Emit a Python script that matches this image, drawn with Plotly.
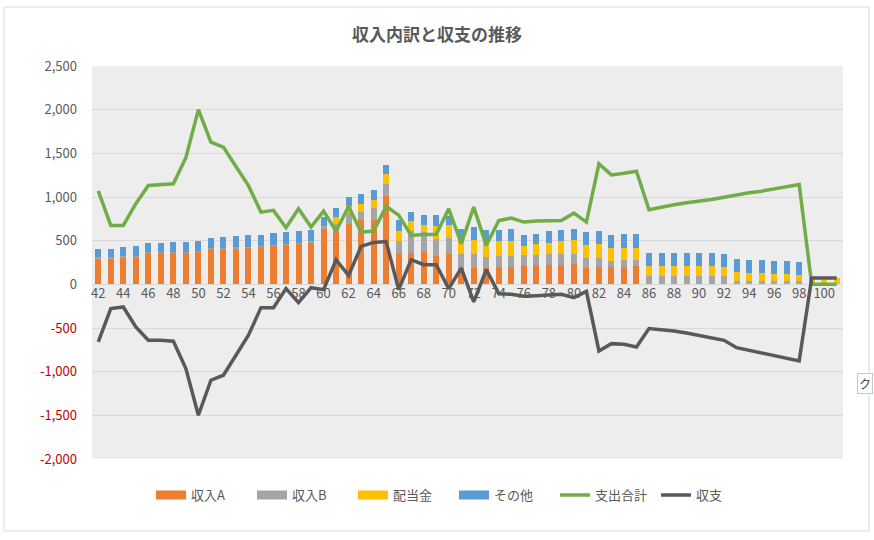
import plotly.graph_objects as go

ages = list(range(42, 102))

income_a = [300, 300, 312, 320, 362, 362, 362, 362, 377, 411, 411, 415, 423, 430, 442, 457, 469, 484,
            637, 600, 690, 732, 732, 1010, 351, 358, 370, 320, 343, 179, 190, 190, 198, 198, 206, 217,
            217, 217, 229, 190, 198, 198, 198, 206,
            0, 0, 0, 0, 0, 0, 0, 0, 0, 0, 0, 0, 0, 0, 0, 0]

income_b = [10] * 18 + [30, 90, 130, 95, 145, 141, 141, 248, 229, 202, 190, 164, 152, 122, 122, 122,
            126, 114, 126, 126, 122, 114, 107, 69, 76, 69,
            91, 91, 91, 91, 91, 91, 91, 38, 38, 38, 38, 38, 38, 0, 0, 0]

dividend = [0] * 19 + [76, 80, 88, 84, 114, 114, 118, 76, 141, 152, 179, 168, 183, 175, 175, 103,
            126, 130, 152, 152, 152, 160, 152, 145, 145,
            114, 114, 114, 114, 114, 114, 107, 99, 91, 91, 76, 76, 65, 70, 70, 70]

other = [90, 90, 101, 104, 97, 97, 108, 108, 108, 105, 116, 124, 127, 120, 131, 127, 127, 123,
         100, 107, 100, 114, 118, 107, 126, 110, 114, 126, 103, 114, 145, 122, 122, 133, 126, 122,
         133, 122, 133, 149, 141, 141, 152, 152,
         152, 152, 152, 152, 152, 152, 145, 152, 145, 145, 149, 149, 149, 0, 0, 0]

expense = [1070, 675, 675, 923, 1132, 1144, 1151, 1450, 2000, 1628, 1571, 1350, 1130, 827, 847, 648,
           866, 656, 838, 610, 892, 598, 610, 892, 792, 560, 571, 571, 865, 465, 884, 446, 731, 758,
           713, 724, 724, 731, 815, 713, 1379, 1253, 1272, 1295, 853, 884, 911, 933, 949, 972, 998,
           1025, 1048, 1067, 1093, 1120, 1143, 0, 0, 0]

balance = [-660, -278, -259, -488, -641, -641, -652, -965, -1499, -1098, -1041, -812, -583, -267, -267,
           -49, -210, -38, -61, 280, 103, 434, 480, 490, -61, 282, 225, 225, -50, 185, -200, 168,
           -107, -114, -137, -130, -122, -114, -152, -80, -763, -679, -686, -717, -507, -518, -534,
           -557, -583, -614, -641, -725, -755, -786, -812, -843, -877, 72, 72, 72]

y_ticks = [-2000, -1500, -1000, -500, 0, 500, 1000, 1500, 2000, 2500]
x_ticks = list(range(42, 101, 2))

names = ["収入A", "収入B", "配当金", "その他", "支出合計", "収支"]
colors = ["#ED7D31", "#A5A5A5", "#FFC000", "#5B9BD5", "#70AD47", "#595959"]

FONT = "Noto Sans CJK JP, Noto Sans, sans-serif"
TXT = "#595959"

fig = go.Figure()
for name, vals, col in zip(names[:4], [income_a, income_b, dividend, other], colors[:4]):
    fig.add_trace(go.Bar(x=ages, y=vals, name=name, showlegend=False,
                         marker=dict(color=col, line=dict(width=0))))

fig.add_trace(go.Scatter(x=ages, y=expense, name=names[4], mode="lines", showlegend=False,
                         line=dict(color=colors[4], width=3.5)))
fig.add_trace(go.Scatter(x=ages, y=balance, name=names[5], mode="lines", showlegend=False,
                         line=dict(color=colors[5], width=3.5)))

# legend entries (wide swatches for the bar series, lines for the line series)
for i, (name, col) in enumerate(zip(names, colors)):
    fig.add_trace(go.Scatter(x=[None], y=[None], name=name, mode="lines",
                             line=dict(color=col, width=9 if i < 4 else 3.5)))


def fmt(v):
    s = f"{v:,}"
    if v < 0:
        return f"<span style='color:#C00000'>{s}</span>"
    return s


ymin, ymax = -2000, 2500
zero_pos = (0 - ymin) / (ymax - ymin)

fig.update_layout(
    width=874, height=540,
    margin=dict(l=92, r=31, t=66, b=81),
    paper_bgcolor="white",
    plot_bgcolor="#EDEDED",
    barmode="stack",
    bargap=0.52,
    font=dict(family=FONT, size=13, color=TXT),
    title=dict(text="<b>収入内訳と収支の推移</b>", x=0.5, xref="container", xanchor="center",
               y=1 - 35 / 540, yref="container", yanchor="middle",
               font=dict(family=FONT, size=17, color=TXT)),
    showlegend=True,
    legend=dict(orientation="h", x=(454 - 92) / 751, xanchor="center", y=-0.092, yanchor="middle",
                font=dict(family=FONT, size=13, color=TXT), traceorder="normal",
                itemwidth=30, entrywidth=56, entrywidthmode="pixels",
                bgcolor="rgba(0,0,0,0)"),
    xaxis=dict(range=[41.5, 101.5], tickmode="array", tickvals=x_ticks,
               ticktext=[str(t) for t in x_ticks], showgrid=False, zeroline=False,
               showline=False, ticks="", anchor="free", position=zero_pos,
               tickfont=dict(family=FONT, size=13, color=TXT)),
    yaxis=dict(range=[ymin, ymax], tickmode="array", tickvals=y_ticks,
               ticktext=[fmt(v) for v in y_ticks], showgrid=True, gridcolor="#D9D9D9",
               gridwidth=1, zeroline=True, zerolinecolor="#D9D9D9", zerolinewidth=1,
               showline=False, ticks="", ticklabelstandoff=14,
               tickfont=dict(family=FONT, size=13, color=TXT)),
    hovermode=False,
)

# outer chart border
fig.add_shape(type="rect", xref="paper", yref="paper",
              x0=(4 - 92) / 751, x1=(869 - 92) / 751,
              y0=(459 - 531) / 393, y1=(459 - 7) / 393,
              line=dict(color="#D9D9D9", width=1), fillcolor="rgba(0,0,0,0)", layer="below")

# small box at the right edge
fig.add_annotation(xref="paper", yref="paper", x=(873 - 92) / 751, y=(459 - 383) / 393,
                   xanchor="right", yanchor="middle", text="ク", showarrow=False,
                   bordercolor="#C8C8C8", borderwidth=1, bgcolor="white", borderpad=1,
                   font=dict(family=FONT, size=12, color="#404040"))

fig.write_html("out.html")
